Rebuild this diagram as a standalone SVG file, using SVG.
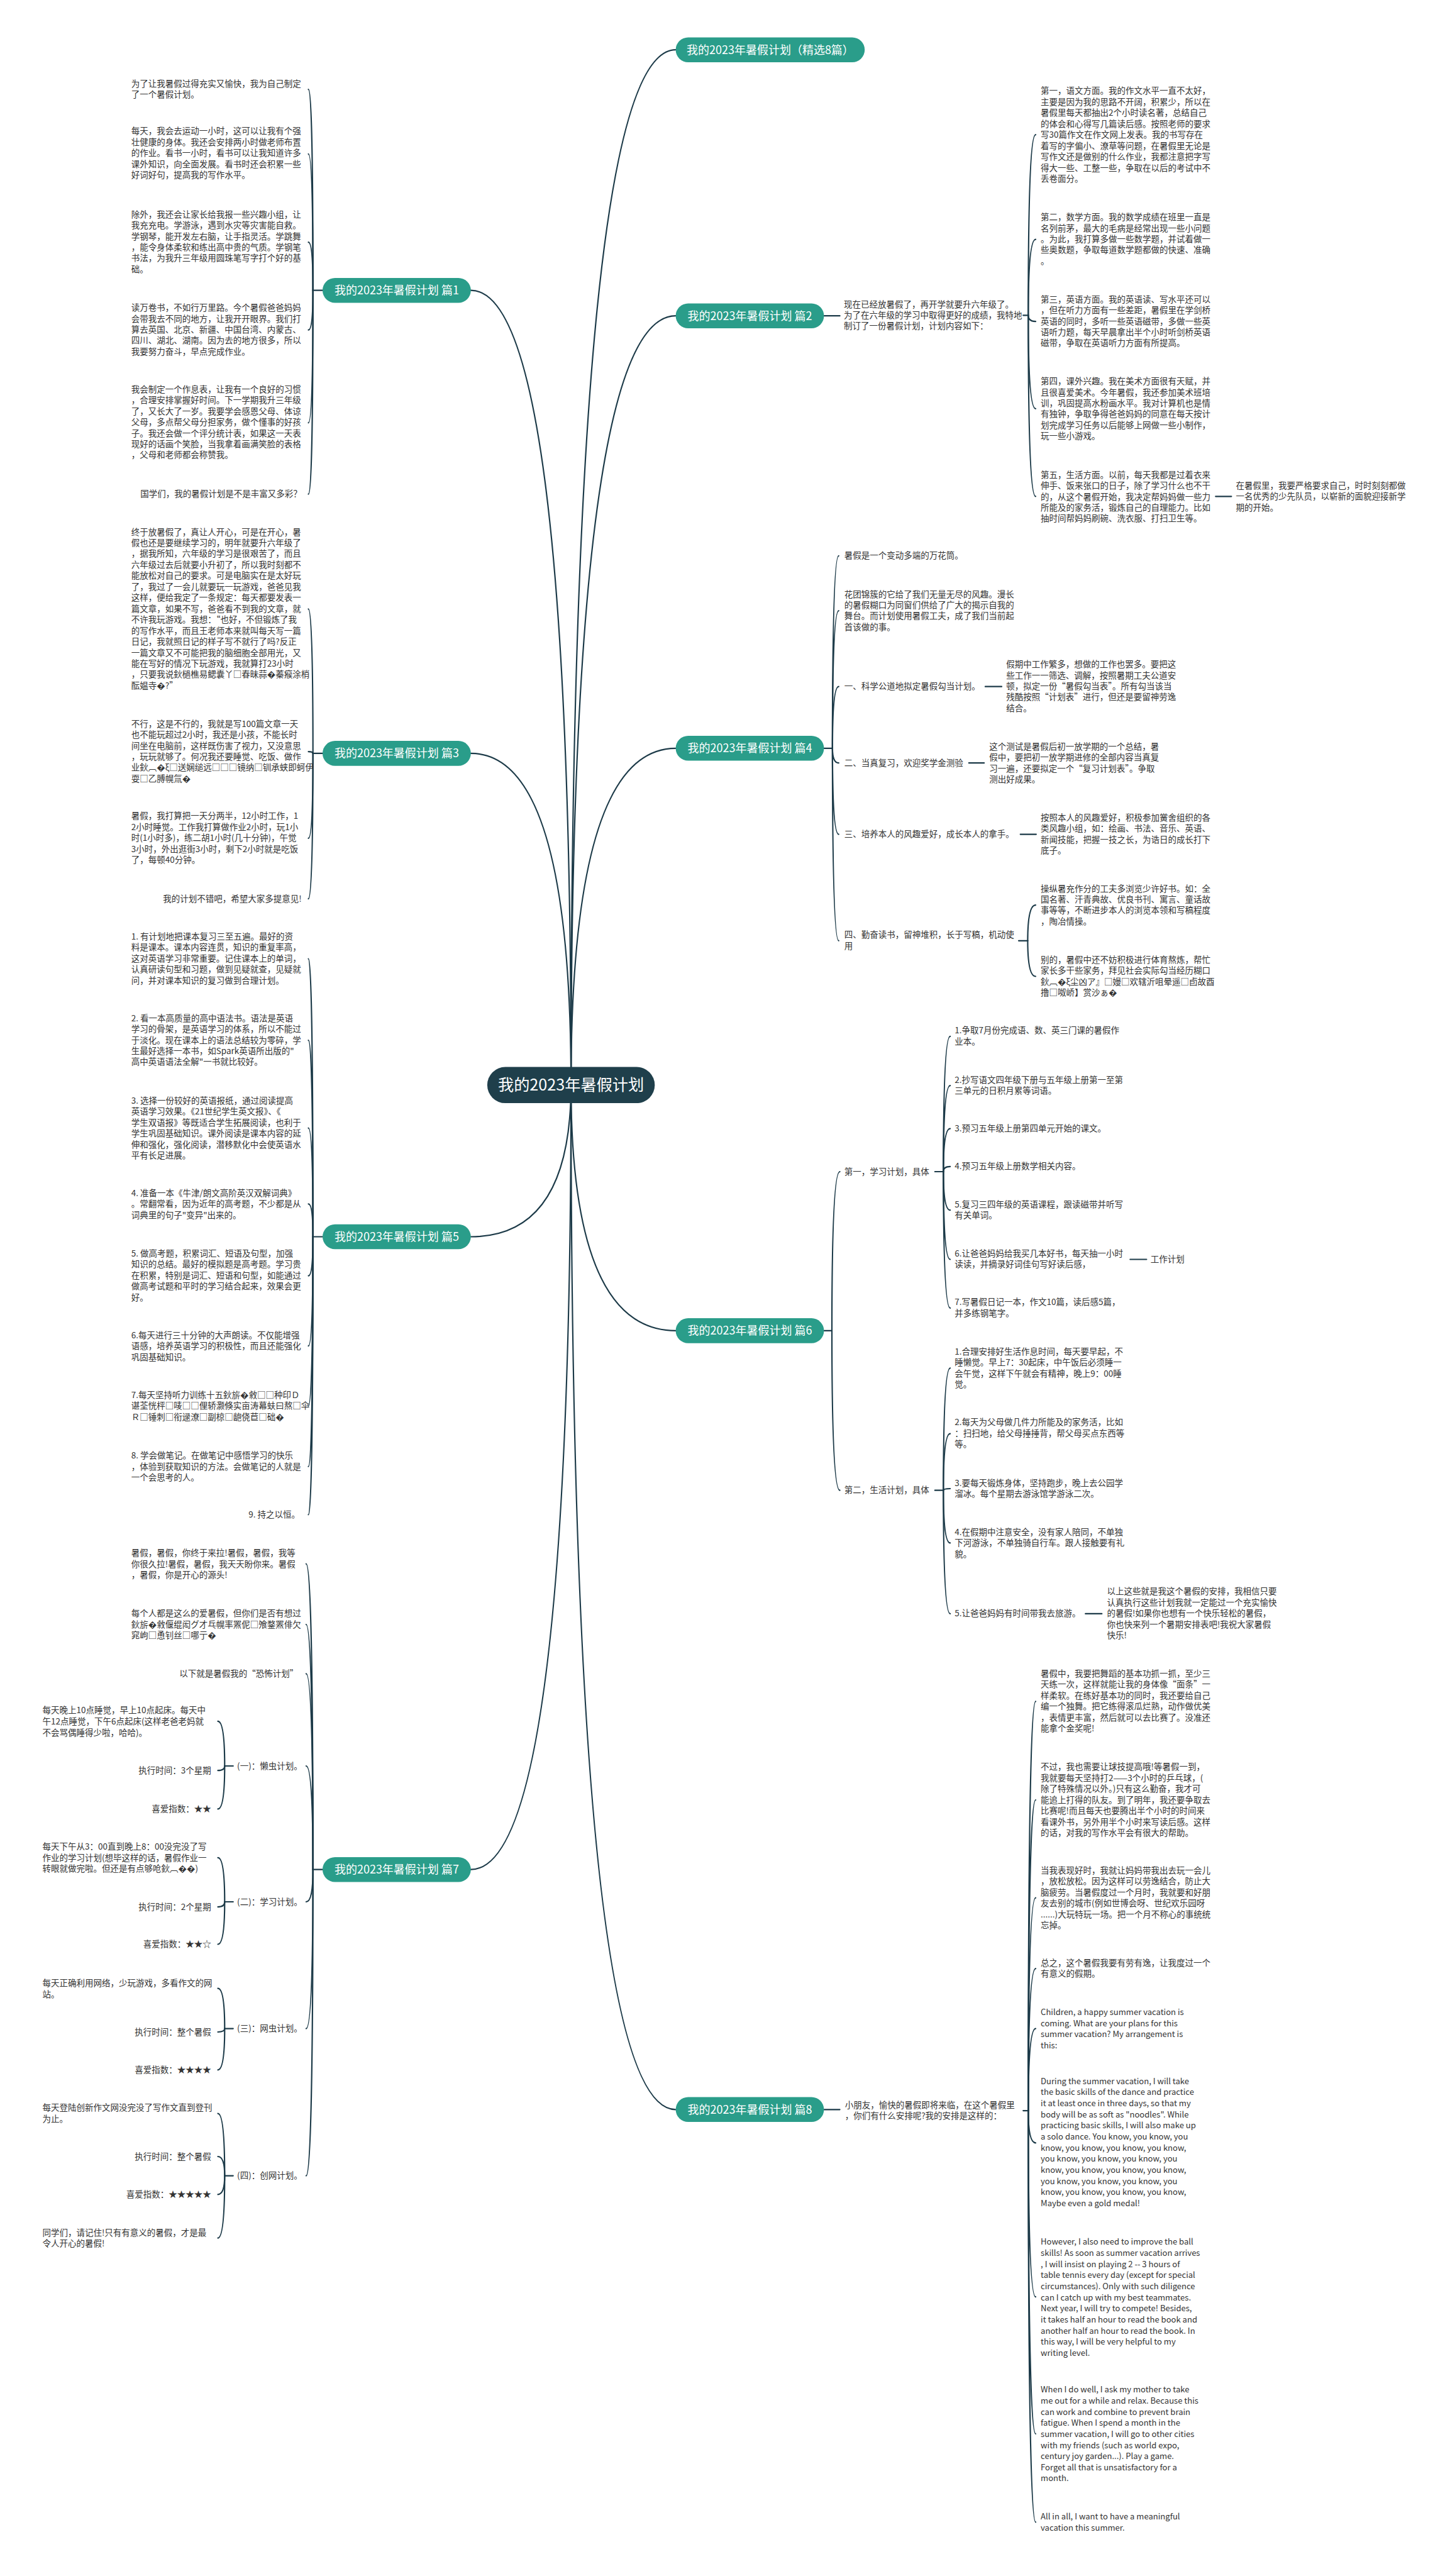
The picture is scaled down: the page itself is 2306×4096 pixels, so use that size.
<svg xmlns="http://www.w3.org/2000/svg" width="2306" height="4096" viewBox="0 0 2306 4096">
<style>
.t{font-family:"Noto Sans CJK SC","Noto Sans",sans-serif;font-size:15px;fill:#333}
.te{font-family:"Noto Sans CJK SC","Noto Sans",sans-serif;font-size:14.5px;fill:#333}
.e{text-anchor:end}
.nt{font-family:"Noto Sans CJK SC","Noto Sans",sans-serif;font-size:20px;fill:#fff;text-anchor:middle}
.rt{font-family:"Noto Sans CJK SC","Noto Sans",sans-serif;font-size:28px;fill:#fff;text-anchor:middle}
.nb{fill:#2a9d8a}
.ln path{fill:none;stroke:#1c3a48;stroke-width:2.4;stroke-linecap:round}
</style>
<rect width="2306" height="4096" fill="#fff"/>
<g transform="scale(0.9)">
<g id="connectors" class="ln">
<path d="M1009 1917Q1009 88 1194 88"/>
<path d="M1009 1917Q1009 558 1194 558"/>
<path d="M1009 1917Q1009 1322 1194 1322"/>
<path d="M1009 1917Q1009 2351 1194 2351"/>
<path d="M1009 1917Q1009 3727 1194 3727"/>
<path d="M1009 1917Q1009 513 832 513"/>
<path d="M1009 1917Q1009 1331 832 1331"/>
<path d="M1009 1917Q1009 2185 832 2185"/>
<path d="M1009 1917Q1009 3303 832 3303"/>
<!-- p1 -->
<path d="M570 513H553"/>
<path d="M553 513Q553 158 545 158"/><path d="M553 513Q553 272 545 272"/><path d="M553 513Q553 428 545 428"/><path d="M553 513Q553 583 545 583"/><path d="M553 513Q553 747 545 747"/><path d="M553 513Q553 873 545 873"/>
<!-- p3 -->
<path d="M570 1331H553"/>
<path d="M553 1331Q553 1076 545 1076"/><path d="M553 1331Q553 1328 545 1328"/><path d="M553 1331Q553 1481 545 1481"/><path d="M553 1331Q553 1588 545 1588"/>
<!-- p5 -->
<path d="M570 2185H553"/>
<path d="M553 2185Q553 1694 545 1694"/><path d="M553 2185Q553 1838 545 1838"/><path d="M553 2185Q553 1993 545 1993"/><path d="M553 2185Q553 2127 545 2127"/><path d="M553 2185Q553 2254 545 2254"/><path d="M553 2185Q553 2378 545 2378"/><path d="M553 2185Q553 2484 545 2484"/><path d="M553 2185Q553 2591 545 2591"/><path d="M553 2185Q553 2676 545 2676"/>
<!-- p7 -->
<path d="M570 3303H553"/>
<path d="M553 3303Q553 2763 541 2763"/><path d="M553 3303Q553 2870 541 2870"/><path d="M553 3303Q553 2957 541 2957"/><path d="M553 3303Q553 3120 541 3120"/><path d="M553 3303Q553 3360 541 3360"/><path d="M553 3303Q553 3584 541 3584"/><path d="M553 3303Q553 3844 541 3844"/>
<path d="M412 3120H397"/><path d="M397 3120Q397 3041 385 3041"/><path d="M397 3120Q397 3128 385 3128"/><path d="M397 3120Q397 3196 385 3196"/>
<path d="M412 3360H397"/><path d="M397 3360Q397 3282 385 3282"/><path d="M397 3360Q397 3369 385 3369"/><path d="M397 3360Q397 3435 385 3435"/>
<path d="M412 3584H397"/><path d="M397 3584Q397 3513 385 3513"/><path d="M397 3584Q397 3590 385 3590"/><path d="M397 3584Q397 3657 385 3657"/>
<path d="M412 3844H397"/><path d="M397 3844Q397 3734 385 3734"/><path d="M397 3844Q397 3810 385 3810"/><path d="M397 3844Q397 3877 385 3877"/><path d="M397 3844Q397 3954 385 3954"/>
<!-- p2 -->
<path d="M1456 558H1484"/>
<path d="M1808 557H1817"/>
<path d="M1817 557Q1817 238 1830 238"/><path d="M1817 557Q1817 423 1830 423"/><path d="M1817 557Q1817 568 1830 568"/><path d="M1817 557Q1817 722 1830 722"/><path d="M1817 557Q1817 877 1830 877"/>
<path d="M2148 877H2176"/>
<!-- p4 -->
<path d="M1456 1322H1471"/>
<path d="M1471 1322Q1471 982 1482 982"/><path d="M1471 1322Q1471 1079 1482 1079"/><path d="M1471 1322Q1471 1213 1482 1213"/><path d="M1471 1322Q1471 1348 1482 1348"/><path d="M1471 1322Q1471 1474 1482 1474"/><path d="M1471 1322Q1471 1662 1482 1662"/>
<path d="M1741 1213H1770"/><path d="M1712 1348H1739"/><path d="M1803 1474H1831"/>
<path d="M1800 1662H1816"/><path d="M1816 1662Q1816 1599 1830 1599"/><path d="M1816 1662Q1816 1725 1830 1725"/>
<!-- p6 -->
<path d="M1456 2351H1470"/>
<path d="M1470 2351Q1470 2070 1484 2070"/><path d="M1470 2351Q1470 2633 1484 2633"/>
<path d="M1652 2070H1667"/>
<path d="M1667 2070Q1667 1831 1679 1831"/><path d="M1667 2070Q1667 1918 1679 1918"/><path d="M1667 2070Q1667 1994 1679 1994"/><path d="M1667 2070Q1667 2061 1679 2061"/><path d="M1667 2070Q1667 2138 1679 2138"/><path d="M1667 2070Q1667 2225 1679 2225"/><path d="M1667 2070Q1667 2311 1679 2311"/>
<path d="M1997 2225H2026"/>
<path d="M1652 2633H1667"/>
<path d="M1667 2633Q1667 2417 1679 2417"/><path d="M1667 2633Q1667 2533 1679 2533"/><path d="M1667 2633Q1667 2630 1679 2630"/><path d="M1667 2633Q1667 2726 1679 2726"/><path d="M1667 2633Q1667 2851 1679 2851"/>
<path d="M1918 2851H1947"/>
<!-- p8 -->
<path d="M1456 3727H1484"/>
<path d="M1808 3729H1817"/>
<path d="M1817 3729Q1817 3006 1830 3006"/><path d="M1817 3729Q1817 3180 1830 3180"/><path d="M1817 3729Q1817 3353 1830 3353"/><path d="M1817 3729Q1817 3478 1830 3478"/><path d="M1817 3729Q1817 3584 1830 3584"/><path d="M1817 3729Q1817 3786 1830 3786"/><path d="M1817 3729Q1817 4058 1830 4058"/><path d="M1817 3729Q1817 4300 1830 4300"/><path d="M1817 3729Q1817 4456 1830 4456"/>
</g>

<g id="root"><rect x="861" y="1885" width="296" height="64" rx="32" fill="#1f3f4b"/><text class="rt" x="1009" y="1927">我的2023年暑假计划</text></g>

<g id="b0"><rect class="nb" x="1194" y="66" width="334" height="44" rx="22"/><text class="nt" x="1361" y="95">我的2023年暑假计划（精选8篇）</text></g>
<g id="b2"><rect class="nb" x="1194" y="536" width="262" height="44" rx="22"/><text class="nt" x="1325" y="565">我的2023年暑假计划 篇2</text></g>
<g id="b4"><rect class="nb" x="1194" y="1300" width="262" height="44" rx="22"/><text class="nt" x="1325" y="1329">我的2023年暑假计划 篇4</text></g>
<g id="b6"><rect class="nb" x="1194" y="2329" width="262" height="44" rx="22"/><text class="nt" x="1325" y="2358">我的2023年暑假计划 篇6</text></g>
<g id="b8"><rect class="nb" x="1194" y="3705" width="262" height="44" rx="22"/><text class="nt" x="1325" y="3734">我的2023年暑假计划 篇8</text></g>
<g id="b1"><rect class="nb" x="570" y="491" width="262" height="44" rx="22"/><text class="nt" x="701" y="520">我的2023年暑假计划 篇1</text></g>
<g id="b3"><rect class="nb" x="570" y="1309" width="262" height="44" rx="22"/><text class="nt" x="701" y="1338">我的2023年暑假计划 篇3</text></g>
<g id="b5"><rect class="nb" x="570" y="2163" width="262" height="44" rx="22"/><text class="nt" x="701" y="2192">我的2023年暑假计划 篇5</text></g>
<g id="b7"><rect class="nb" x="570" y="3281" width="262" height="44" rx="22"/><text class="nt" x="701" y="3310">我的2023年暑假计划 篇7</text></g>

<!-- 篇1 -->
<g id="p1">
<text class="t" x="232" y="153"><tspan x="232">为了让我暑假过得充实又愉快，我为自己制定</tspan><tspan x="232" dy="19.4">了一个暑假计划。</tspan></text>
<text class="t" x="232" y="237"><tspan x="232">每天，我会去运动一小时，这可以让我有个强</tspan><tspan x="232" dy="19.4">壮健康的身体。我还会安排两小时做老师布置</tspan><tspan x="232" dy="19.4">的作业。看书一小时，看书可以让我知道许多</tspan><tspan x="232" dy="19.4">课外知识，向全面发展。看书时还会积累一些</tspan><tspan x="232" dy="19.4">好词好句，提高我的写作水平。</tspan></text>
<text class="t" x="232" y="384"><tspan x="232">除外，我还会让家长给我报一些兴趣小组，让</tspan><tspan x="232" dy="19.4">我充充电。学游泳，遇到水灾等灾害能自救。</tspan><tspan x="232" dy="19.4">学钢琴，能开发左右脑，让手指灵活。学跳舞</tspan><tspan x="232" dy="19.4">，能令身体柔软和练出高中贵的气质。学钢笔</tspan><tspan x="232" dy="19.4">书法，为我升三年级用圆珠笔写字打个好的基</tspan><tspan x="232" dy="19.4">础。</tspan></text>
<text class="t" x="232" y="549"><tspan x="232">读万卷书，不如行万里路。今个暑假爸爸妈妈</tspan><tspan x="232" dy="19.4">会带我去不同的地方，让我开开眼界。我们打</tspan><tspan x="232" dy="19.4">算去英国、北京、新疆、中国台湾、内蒙古、</tspan><tspan x="232" dy="19.4">四川、湖北、湖南。因为去的地方很多，所以</tspan><tspan x="232" dy="19.4">我要努力奋斗，早点完成作业。</tspan></text>
<text class="t" x="232" y="693"><tspan x="232">我会制定一个作息表，让我有一个良好的习惯</tspan><tspan x="232" dy="19.4">，合理安排掌握好时间。下一学期我升三年级</tspan><tspan x="232" dy="19.4">了，又长大了一岁。我要学会感恩父母、体谅</tspan><tspan x="232" dy="19.4">父母，多点帮父母分担家务，做个懂事的好孩</tspan><tspan x="232" dy="19.4">子。我还会做一个评分统计表，如果这一天表</tspan><tspan x="232" dy="19.4">现好的话画个笑脸，当我拿着画满笑脸的表格</tspan><tspan x="232" dy="19.4">，父母和老师都会称赞我。</tspan></text>
<text class="t e" x="533" y="878">国学们，我的暑假计划是不是丰富又多彩？</text>
</g>

<!-- 篇3 -->
<g id="p3">
<text class="t" x="232" y="945"><tspan x="232">终于放暑假了，真让人开心，可是在开心，暑</tspan><tspan x="232" dy="19.4">假也还是要继续学习的，明年就要升六年级了</tspan><tspan x="232" dy="19.4">，据我所知，六年级的学习是很艰苦了，而且</tspan><tspan x="232" dy="19.4">六年级过去后就要小升初了，所以我时刻都不</tspan><tspan x="232" dy="19.4">能放松对自己的要求。可是电脑实在是太好玩</tspan><tspan x="232" dy="19.4">了，我过了一会儿就要玩一玩游戏，爸爸见我</tspan><tspan x="232" dy="19.4">这样，便给我定了一条规定：每天都要发表一</tspan><tspan x="232" dy="19.4">篇文章，如果不写，爸爸看不到我的文章，就</tspan><tspan x="232" dy="19.4">不许我玩游戏。我想：“也好，不但锻炼了我</tspan><tspan x="232" dy="19.4">的写作水平，而且王老师本来就叫每天写一篇</tspan><tspan x="232" dy="19.4">日记，我就照日记的样子写不就行了吗?反正</tspan><tspan x="232" dy="19.4">一篇文章又不可能把我的脑细胞全部用光，又</tspan><tspan x="232" dy="19.4">能在写好的情况下玩游戏，我就算打23小时</tspan><tspan x="232" dy="19.4">，只要我说鈥檛樵易鳃囊丫□春昧蒜�蓁瘊涂梢</tspan><tspan x="232" dy="19.4">酝媪寺�?”</tspan></text>
<text class="t" x="232" y="1284"><tspan x="232">不行，这是不行的，我就是写100篇文章一天</tspan><tspan x="232" dy="19.4">也不能玩超过2小时，我还是小孩，不能长时</tspan><tspan x="232" dy="19.4">间坐在电脑前，这样既伤害了视力，又没意思</tspan><tspan x="232" dy="19.4">，玩玩就够了。何况我还要睡觉、吃饭、做作</tspan><tspan x="232" dy="19.4">业鈥︹�ξ□送娴缒远□□□镜纳□钏承蛱即蚵伊</tspan><tspan x="232" dy="19.4">耍□乙膊幌氚�</tspan></text>
<text class="t" x="232" y="1447"><tspan x="232">暑假，我打算把一天分两半，12小时工作，1</tspan><tspan x="232" dy="19.4">2小时睡觉。工作我打算做作业2小时，玩1小</tspan><tspan x="232" dy="19.4">时(1小时多)，练二胡1小时(几十分钟)，午觉</tspan><tspan x="232" dy="19.4">3小时，外出逛街3小时，剩下2小时就是吃饭</tspan><tspan x="232" dy="19.4">了，每顿40分钟。</tspan></text>
<text class="t e" x="533" y="1593">我的计划不错吧，希望大家多提意见!</text>
</g>

<!-- 篇5 -->
<g id="p5">
<text class="t" x="232" y="1660"><tspan x="232">1. 有计划地把课本复习三至五遍。最好的资</tspan><tspan x="232" dy="19.4">料是课本。课本内容连贯，知识的重复率高，</tspan><tspan x="232" dy="19.4">这对英语学习非常重要。记住课本上的单词，</tspan><tspan x="232" dy="19.4">认真研读句型和习题，做到见疑就查，见疑就</tspan><tspan x="232" dy="19.4">问，并对课本知识的复习做到合理计划。</tspan></text>
<text class="t" x="232" y="1804"><tspan x="232">2. 看一本高质量的高中语法书。语法是英语</tspan><tspan x="232" dy="19.4">学习的骨架，是英语学习的体系，所以不能过</tspan><tspan x="232" dy="19.4">于淡化。现在课本上的语法总结较为零碎，学</tspan><tspan x="232" dy="19.4">生最好选择一本书，如Spark英语所出版的"</tspan><tspan x="232" dy="19.4">高中英语语法全解"一书就比较好。</tspan></text>
<text class="t" x="232" y="1950"><tspan x="232">3. 选择一份较好的英语报纸，通过阅读提高</tspan><tspan x="232" dy="19.4">英语学习效果。《21世纪学生英文报》、《</tspan><tspan x="232" dy="19.4">学生双语报》等既适合学生拓展阅读，也利于</tspan><tspan x="232" dy="19.4">学生巩固基础知识。课外阅读是课本内容的延</tspan><tspan x="232" dy="19.4">伸和强化，强化阅读，潜移默化中会使英语水</tspan><tspan x="232" dy="19.4">平有长足进展。</tspan></text>
<text class="t" x="232" y="2113"><tspan x="232">4. 准备一本《牛津/朗文高阶英汉双解词典》</tspan><tspan x="232" dy="19.4">。常翻常看，因为近年的高考题，不少都是从</tspan><tspan x="232" dy="19.4">词典里的句子"变异"出来的。</tspan></text>
<text class="t" x="232" y="2220"><tspan x="232">5. 做高考题，积累词汇、短语及句型，加强</tspan><tspan x="232" dy="19.4">知识的总结。最好的模拟题是高考题。学习贵</tspan><tspan x="232" dy="19.4">在积累，特别是词汇、短语和句型，如能通过</tspan><tspan x="232" dy="19.4">做高考试题和平时的学习结合起来，效果会更</tspan><tspan x="232" dy="19.4">好。</tspan></text>
<text class="t" x="232" y="2364"><tspan x="232">6.每天进行三十分钟的大声朗读。不仅能增强</tspan><tspan x="232" dy="19.4">语感，培养英语学习的积极性，而且还能强化</tspan><tspan x="232" dy="19.4">巩固基础知识。</tspan></text>
<text class="t" x="232" y="2470"><tspan x="232">7.每天坚持听力训练十五鈥旂�敹□□种印Ｄ</tspan><tspan x="232" dy="19.4">谌荃恍枰□唛□□俚轿灏倏实亩涛幕蚨曰熬□伞</tspan><tspan x="232" dy="19.4">Ｒ□锤刺□衔逯潦□副椋□龅侥苣□础�</tspan></text>
<text class="t" x="232" y="2577"><tspan x="232">8. 学会做笔记。在做笔记中感悟学习的快乐</tspan><tspan x="232" dy="19.4">，体验到获取知识的方法。会做笔记的人就是</tspan><tspan x="232" dy="19.4">一个会思考的人。</tspan></text>
<text class="t e" x="530" y="2681">9. 持之以恒。</text>
</g>

<!-- 篇7 -->
<g id="p7">
<text class="t" x="232" y="2749"><tspan x="232">暑假，暑假，你终于来拉!暑假，暑假，我等</tspan><tspan x="232" dy="19.4">你很久拉!暑假，暑假，我天天盼你来。暑假</tspan><tspan x="232" dy="19.4">，暑假，你是开心的源头!</tspan></text>
<text class="t" x="232" y="2856"><tspan x="232">每个人都是这么的爱暑假，但你们是否有想过</tspan><tspan x="232" dy="19.4">鈥旂�敹偃绲闳グ才乓幌率罴伲□飧鍪罴俳欠</tspan><tspan x="232" dy="19.4">窕岣□恿钊丝□哪亍�</tspan></text>
<text class="t e" x="527" y="2962">以下就是暑假我的“恐怖计划”</text>
<text class="t" x="419" y="3125">(一)：懒虫计划。</text>
<text class="t" x="419" y="3365">(二)：学习计划。</text>
<text class="t" x="419" y="3589">(三)：网虫计划。</text>
<text class="t" x="419" y="3849">(四)：创网计划。</text>
<text class="t" x="75" y="3027"><tspan x="75">每天晚上10点睡觉，早上10点起床。每天中</tspan><tspan x="75" dy="20">午12点睡觉，下午6点起床(这样老爸老妈就</tspan><tspan x="75" dy="20">不会骂偶睡得少啦，哈哈)。</tspan></text>
<text class="t e" x="373" y="3133">执行时间：3个星期</text>
<text class="t e" x="373" y="3201">喜爱指数：★★</text>
<text class="t" x="75" y="3268"><tspan x="75">每天下午从3：00直到晚上8：00没完没了写</tspan><tspan x="75" dy="19.4">作业的学习计划(想毕这样的话，暑假作业一</tspan><tspan x="75" dy="19.4">转眼就做完啦。但还是有点够呛鈥︹��)</tspan></text>
<text class="t e" x="373" y="3374">执行时间：2个星期</text>
<text class="t e" x="373" y="3440">喜爱指数：★★☆</text>
<text class="t" x="75" y="3509"><tspan x="75">每天正确利用网络，少玩游戏，多看作文的网</tspan><tspan x="75" dy="19.4">站。</tspan></text>
<text class="t e" x="373" y="3595">执行时间：整个暑假</text>
<text class="t e" x="373" y="3662">喜爱指数：★★★★</text>
<text class="t" x="75" y="3729"><tspan x="75">每天登陆创新作文网没完没了写作文直到登刊</tspan><tspan x="75" dy="19.4">为止。</tspan></text>
<text class="t e" x="373" y="3815">执行时间：整个暑假</text>
<text class="t e" x="373" y="3882">喜爱指数：★★★★★</text>
<text class="t" x="75" y="3950"><tspan x="75">同学们，请记住!只有有意义的暑假，才是最</tspan><tspan x="75" dy="19.4">令人开心的暑假!</tspan></text>
</g>

<!-- 篇2 -->
<g id="p2">
<text class="t" x="1491" y="543"><tspan x="1491">现在已经放暑假了，再开学就要升六年级了。</tspan><tspan x="1491" dy="19">为了在六年级的学习中取得更好的成绩，我特地</tspan><tspan x="1491" dy="19">制订了一份暑假计划，计划内容如下：</tspan></text>
<text class="t" x="1839" y="166"><tspan x="1839">第一，语文方面。我的作文水平一直不太好，</tspan><tspan x="1839" dy="19.4">主要是因为我的思路不开阔，积累少，所以在</tspan><tspan x="1839" dy="19.4">暑假里每天都抽出2个小时读名著，总结自己</tspan><tspan x="1839" dy="19.4">的体会和心得写几篇读后感。按照老师的要求</tspan><tspan x="1839" dy="19.4">写30篇作文在作文网上发表。我的书写存在</tspan><tspan x="1839" dy="19.4">着写的字偏小、潦草等问题，在暑假里无论是</tspan><tspan x="1839" dy="19.4">写作文还是做别的什么作业，我都注意把字写</tspan><tspan x="1839" dy="19.4">得大一些、工整一些，争取在以后的考试中不</tspan><tspan x="1839" dy="19.4">丢卷面分。</tspan></text>
<text class="t" x="1839" y="389"><tspan x="1839">第二，数学方面。我的数学成绩在班里一直是</tspan><tspan x="1839" dy="19.4">名列前茅，最大的毛病是经常出现一些小问题</tspan><tspan x="1839" dy="19.4">。为此，我打算多做一些数学题，并试着做一</tspan><tspan x="1839" dy="19.4">些奥数题，争取每道数学题都做的快速、准确</tspan><tspan x="1839" dy="19.4">。</tspan></text>
<text class="t" x="1839" y="534"><tspan x="1839">第三，英语方面。我的英语读、写水平还可以</tspan><tspan x="1839" dy="19.4">，但在听力方面有一些差距，暑假里在学剑桥</tspan><tspan x="1839" dy="19.4">英语的同时，多听一些英语磁带，多做一些英</tspan><tspan x="1839" dy="19.4">语听力题，每天早晨拿出半个小时听剑桥英语</tspan><tspan x="1839" dy="19.4">磁带，争取在英语听力方面有所提高。</tspan></text>
<text class="t" x="1839" y="679"><tspan x="1839">第四，课外兴趣。我在美术方面很有天赋，并</tspan><tspan x="1839" dy="19.4">且很喜爱美术。今年暑假，我还参加美术班培</tspan><tspan x="1839" dy="19.4">训，巩固提高水粉画水平。我对计算机也是情</tspan><tspan x="1839" dy="19.4">有独钟，争取争得爸爸妈妈的同意在每天按计</tspan><tspan x="1839" dy="19.4">划完成学习任务以后能够上网做一些小制作，</tspan><tspan x="1839" dy="19.4">玩一些小游戏。</tspan></text>
<text class="t" x="1839" y="844"><tspan x="1839">第五，生活方面。以前，每天我都是过着衣来</tspan><tspan x="1839" dy="19.4">伸手、饭来张口的日子，除了学习什么也不干</tspan><tspan x="1839" dy="19.4">的，从这个暑假开始，我决定帮妈妈做一些力</tspan><tspan x="1839" dy="19.4">所能及的家务活，锻炼自己的自理能力。比如</tspan><tspan x="1839" dy="19.4">抽时间帮妈妈刷碗、洗衣服、打扫卫生等。</tspan></text>
<text class="t" x="2184" y="863"><tspan x="2184">在暑假里，我要严格要求自己，时时刻刻都做</tspan><tspan x="2184" dy="19.4">一名优秀的少先队员，以崭新的面貌迎接新学</tspan><tspan x="2184" dy="19.4">期的开始。</tspan></text>
</g>

<!-- 篇4 -->
<g id="p4">
<text class="t" x="1492" y="987">暑假是一个变动多端的万花筒。</text>
<text class="t" x="1492" y="1055"><tspan x="1492">花团锦簇的它给了我们无量无尽的风趣。漫长</tspan><tspan x="1492" dy="19.4">的暑假糊口为同窗们供给了广大的揭示自我的</tspan><tspan x="1492" dy="19.4">舞台。而计划使用暑假工夫，成了我们当前起</tspan><tspan x="1492" dy="19.4">首该做的事。</tspan></text>
<text class="t" x="1492" y="1218">一、科学公道地拟定暑假勾当计划。</text>
<text class="t" x="1778" y="1179"><tspan x="1778">假期中工作繁多，想做的工作也罢多。要把这</tspan><tspan x="1778" dy="19.4">些工作一一筛选、调解，按照暑期工夫公道安</tspan><tspan x="1778" dy="19.4">顿，拟定一份“暑假勾当表”。所有勾当该当</tspan><tspan x="1778" dy="19.4">残酷按照“计划表”进行，但还是要留神劳逸</tspan><tspan x="1778" dy="19.4">结合。</tspan></text>
<text class="t" x="1492" y="1353">二、当真复习，欢迎奖学金测验</text>
<text class="t" x="1748" y="1324"><tspan x="1748">这个测试是暑假后初一放学期的一个总结，暑</tspan><tspan x="1748" dy="19.4">假中，要把初一放学期进修的全部内容当真复</tspan><tspan x="1748" dy="19.4">习一遍，还要拟定一个“复习计划表”。争取</tspan><tspan x="1748" dy="19.4">测出好成果。</tspan></text>
<text class="t" x="1492" y="1479">三、培养本人的风趣爱好，成长本人的拿手。</text>
<text class="t" x="1839" y="1450"><tspan x="1839">按照本人的风趣爱好，积极参加黉舍组织的各</tspan><tspan x="1839" dy="19.4">类风趣小组，如：绘画、书法、音乐、英语、</tspan><tspan x="1839" dy="19.4">新闻技能，把握一技之长，为诰日的成长打下</tspan><tspan x="1839" dy="19.4">底子。</tspan></text>
<text class="t" x="1492" y="1657"><tspan x="1492">四、勤奋读书，留神堆积，长于写稿，机动使</tspan><tspan x="1492" dy="19.4">用</tspan></text>
<text class="t" x="1839" y="1575"><tspan x="1839">操纵暑充作分的工夫多浏览少许好书。如：全</tspan><tspan x="1839" dy="19.4">国名著、汗青典故、优良书刊、寓言、童话故</tspan><tspan x="1839" dy="19.4">事等等，不断进步本人的浏览本领和写稿程度</tspan><tspan x="1839" dy="19.4">，陶冶情操。</tspan></text>
<text class="t" x="1839" y="1701"><tspan x="1839">别的，暑假中还不妨积极进行体育熬炼，帮忙</tspan><tspan x="1839" dy="19.4">家长多干些家务，拜见社会实际勾当经历糊口</tspan><tspan x="1839" dy="19.4">鈥︹�ξ尘凶ア』□嫚□欢辖沂咀晕遥□卣故酉</tspan><tspan x="1839" dy="19.4">撸□呶峤】赏沙ぁ�</tspan></text>
</g>

<!-- 篇6 -->
<g id="p6">
<text class="t" x="1492" y="2075">第一，学习计划，具体</text>
<text class="t" x="1687" y="1826"><tspan x="1687">1.争取7月份完成语、数、英三门课的暑假作</tspan><tspan x="1687" dy="19.4">业本。</tspan></text>
<text class="t" x="1687" y="1913"><tspan x="1687">2.抄写语文四年级下册与五年级上册第一至第</tspan><tspan x="1687" dy="19.4">三单元的日积月累等词语。</tspan></text>
<text class="t" x="1687" y="1999">3.预习五年级上册第四单元开始的课文。</text>
<text class="t" x="1687" y="2066">4.预习五年级上册数学相关内容。</text>
<text class="t" x="1687" y="2133"><tspan x="1687">5.复习三四年级的英语课程，跟读磁带并听写</tspan><tspan x="1687" dy="19.4">有关单词。</tspan></text>
<text class="t" x="1687" y="2220"><tspan x="1687">6.让爸爸妈妈给我买几本好书，每天抽一小时</tspan><tspan x="1687" dy="19.4">读读，并摘录好词佳句写好读后感，</tspan></text>
<text class="t" x="2033" y="2230">工作计划</text>
<text class="t" x="1687" y="2306"><tspan x="1687">7.写暑假日记一本，作文10篇，读后感5篇，</tspan><tspan x="1687" dy="19.4">并多练钢笔字。</tspan></text>
<text class="t" x="1492" y="2638">第二，生活计划，具体</text>
<text class="t" x="1687" y="2393"><tspan x="1687">1.合理安排好生活作息时间，每天要早起，不</tspan><tspan x="1687" dy="19.4">睡懒觉。早上7：30起床，中午饭后必须睡一</tspan><tspan x="1687" dy="19.4">会午觉，这样下午就会有精神，晚上9：00睡</tspan><tspan x="1687" dy="19.4">觉。</tspan></text>
<text class="t" x="1687" y="2518"><tspan x="1687">2.每天为父母做几件力所能及的家务活，比如</tspan><tspan x="1687" dy="19.4">：扫扫地，给父母捶捶背，帮父母买点东西等</tspan><tspan x="1687" dy="19.4">等。</tspan></text>
<text class="t" x="1687" y="2625"><tspan x="1687">3.要每天锻炼身体，坚持跑步，晚上去公园学</tspan><tspan x="1687" dy="19.4">溜冰。每个星期去游泳馆学游泳二次。</tspan></text>
<text class="t" x="1687" y="2712"><tspan x="1687">4.在假期中注意安全，没有家人陪同，不单独</tspan><tspan x="1687" dy="19.4">下河游泳，不单独骑自行车。跟人接触要有礼</tspan><tspan x="1687" dy="19.4">貌。</tspan></text>
<text class="t" x="1687" y="2856">5.让爸爸妈妈有时间带我去旅游。</text>
<text class="t" x="1956" y="2817"><tspan x="1956">以上这些就是我这个暑假的安排，我相信只要</tspan><tspan x="1956" dy="19.4">认真执行这些计划我就一定能过一个充实愉快</tspan><tspan x="1956" dy="19.4">的暑假!如果你也想有一个快乐轻松的暑假，</tspan><tspan x="1956" dy="19.4">你也快来列一个暑期安排表吧!我祝大家暑假</tspan><tspan x="1956" dy="19.4">快乐!</tspan></text>
</g>

<!-- 篇8 -->
<g id="p8">
<text class="t" x="1493" y="3724"><tspan x="1493">小朋友，愉快的暑假即将来临，在这个暑假里</tspan><tspan x="1493" dy="19">，你们有什么安排呢?我的安排是这样的：</tspan></text>
<text class="t" x="1839" y="2962"><tspan x="1839">暑假中，我要把舞蹈的基本功抓一抓，至少三</tspan><tspan x="1839" dy="19.4">天练一次，这样就能让我的身体像“面条”一</tspan><tspan x="1839" dy="19.4">样柔软。在练好基本功的同时，我还要给自己</tspan><tspan x="1839" dy="19.4">编一个独舞。把它练得滚瓜烂熟，动作做优美</tspan><tspan x="1839" dy="19.4">，表情更丰富，然后就可以去比赛了。没准还</tspan><tspan x="1839" dy="19.4">能拿个金奖呢!</tspan></text>
<text class="t" x="1839" y="3127"><tspan x="1839">不过，我也需要让球技提高哦!等暑假一到，</tspan><tspan x="1839" dy="19.4">我就要每天坚持打2——3个小时的乒乓球，(</tspan><tspan x="1839" dy="19.4">除了特殊情况以外。)只有这么勤奋，我才可</tspan><tspan x="1839" dy="19.4">能追上打得的队友。到了明年，我还要争取去</tspan><tspan x="1839" dy="19.4">比赛呢!而且每天也要腾出半个小时的时间来</tspan><tspan x="1839" dy="19.4">看课外书，另外用半个小时来写读后感。这样</tspan><tspan x="1839" dy="19.4">的话，对我的写作水平会有很大的帮助。</tspan></text>
<text class="t" x="1839" y="3310"><tspan x="1839">当我表现好时，我就让妈妈带我出去玩一会儿</tspan><tspan x="1839" dy="19.4">，放松放松。因为这样可以劳逸结合，防止大</tspan><tspan x="1839" dy="19.4">脑疲劳。当暑假度过一个月时，我就要和好朋</tspan><tspan x="1839" dy="19.4">友去别的城市(例如世博会呀、世纪欢乐园呀</tspan><tspan x="1839" dy="19.4">......)大玩特玩一场。把一个月不称心的事统统</tspan><tspan x="1839" dy="19.4">忘掉。</tspan></text>
<text class="t" x="1839" y="3473"><tspan x="1839">总之，这个暑假我要有劳有逸，让我度过一个</tspan><tspan x="1839" dy="19.4">有意义的假期。</tspan></text>
<text class="te" x="1839" y="3560"><tspan x="1839">Children, a happy summer vacation is</tspan><tspan x="1839" dy="19.6">coming. What are your plans for this</tspan><tspan x="1839" dy="19.6">summer vacation? My arrangement is</tspan><tspan x="1839" dy="19.6">this:</tspan></text>
<text class="te" x="1839" y="3682"><tspan x="1839">During the summer vacation, I will take</tspan><tspan x="1839" dy="19.6">the basic skills of the dance and practice</tspan><tspan x="1839" dy="19.6">it at least once in three days, so that my</tspan><tspan x="1839" dy="19.6">body will be as soft as "noodles". While</tspan><tspan x="1839" dy="19.6">practicing basic skills, I will also make up</tspan><tspan x="1839" dy="19.6">a solo dance. You know, you know, you</tspan><tspan x="1839" dy="19.6">know, you know, you know, you know,</tspan><tspan x="1839" dy="19.6">you know, you know, you know, you</tspan><tspan x="1839" dy="19.6">know, you know, you know, you know,</tspan><tspan x="1839" dy="19.6">you know, you know, you know, you</tspan><tspan x="1839" dy="19.6">know, you know, you know, you know,</tspan><tspan x="1839" dy="19.6">Maybe even a gold medal!</tspan></text>
<text class="te" x="1839" y="3966"><tspan x="1839">However, I also need to improve the ball</tspan><tspan x="1839" dy="19.6">skills! As soon as summer vacation arrives</tspan><tspan x="1839" dy="19.6">, I will insist on playing 2 -- 3 hours of</tspan><tspan x="1839" dy="19.6">table tennis every day (except for special</tspan><tspan x="1839" dy="19.6">circumstances). Only with such diligence</tspan><tspan x="1839" dy="19.6">can I catch up with my best teammates.</tspan><tspan x="1839" dy="19.6">Next year, I will try to compete! Besides,</tspan><tspan x="1839" dy="19.6">it takes half an hour to read the book and</tspan><tspan x="1839" dy="19.6">another half an hour to read the book. In</tspan><tspan x="1839" dy="19.6">this way, I will be very helpful to my</tspan><tspan x="1839" dy="19.6">writing level.</tspan></text>
<text class="te" x="1839" y="4227"><tspan x="1839">When I do well, I ask my mother to take</tspan><tspan x="1839" dy="19.6">me out for a while and relax. Because this</tspan><tspan x="1839" dy="19.6">can work and combine to prevent brain</tspan><tspan x="1839" dy="19.6">fatigue. When I spend a month in the</tspan><tspan x="1839" dy="19.6">summer vacation, I will go to other cities</tspan><tspan x="1839" dy="19.6">with my friends (such as world expo,</tspan><tspan x="1839" dy="19.6">century joy garden...). Play a game.</tspan><tspan x="1839" dy="19.6">Forget all that is unsatisfactory for a</tspan><tspan x="1839" dy="19.6">month.</tspan></text>
<text class="te" x="1839" y="4451"><tspan x="1839">All in all, I want to have a meaningful</tspan><tspan x="1839" dy="19.6">vacation this summer.</tspan></text>
</g>
</g>
</svg>
